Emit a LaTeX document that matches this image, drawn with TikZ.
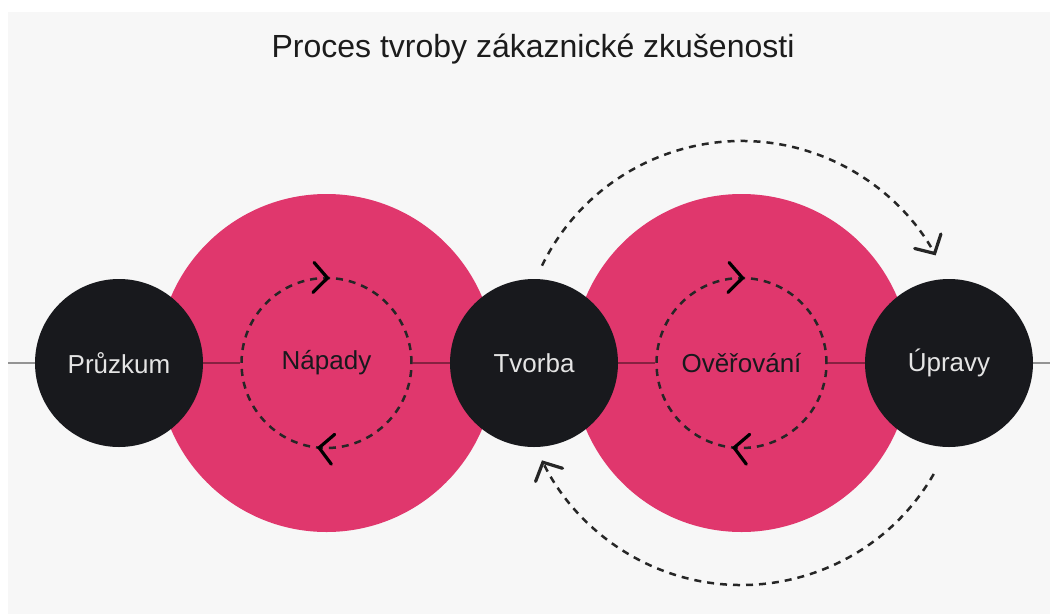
\documentclass[tikz,border=0pt]{standalone}
\usepackage{fontspec}
\setmainfont{Liberation Sans}
\usetikzlibrary{arrows.meta,decorations.markings,calc}
\definecolor{bgc}{HTML}{F7F7F7}
\definecolor{pinkc}{HTML}{E0376D}
\definecolor{darkc}{HTML}{18191D}
\definecolor{lightt}{HTML}{E4E4E4}
\definecolor{dashc}{HTML}{262626}
\definecolor{titlec}{HTML}{1C1C1C}
\begin{document}
\begin{tikzpicture}[x=1pt,y=-1pt,
  stage/.style={circle,fill=darkc,minimum size=168pt,inner sep=0pt,text=lightt,font=\fontsize{26}{30}\selectfont},
  phase/.style={circle,fill=pinkc,minimum size=338pt,inner sep=0pt},
  loopc/.style={circle,draw=dashc,line width=2.5pt,dash pattern=on 7pt off 6pt,minimum size=170pt,inner sep=0pt,text=darkc,font=\fontsize{26}{30}\selectfont},
  axisline/.style={draw=black,opacity=0.4,line width=1.2pt},
  looptips/.style={decoration={markings,
      mark=at position 0.268 with {\arrow{Straight Barb[length=14pt,width=30pt,line width=3.2pt,line cap=round]}},
      mark=at position 0.756 with {\arrow{Straight Barb[length=14pt,width=30pt,line width=3.2pt,line cap=round]}}},
    postaction=decorate},
  bigloop/.style={draw=dashc,line width=2.5pt,dash pattern=on 7pt off 6pt,
    -{Straight Barb[length=14pt,width=30pt,line width=3.2pt,line cap=round]}}
]
\useasboundingbox (0,0) rectangle (1050,614);
\fill[white] (0,0) rectangle (1050,614);
\fill[bgc] (8,12) rectangle (1050,614);

\node[font=\fontsize{32}{38}\selectfont,text=titlec] (title) at (533,49) {Proces tvroby zákaznické zkušenosti};

% big pink phases
\node[phase] (N) at (326.5,363) {};
\node[phase] (O) at (741.5,363) {};

% dashed loops with labels
\node[loopc] (Nd) at (326.5,363) {Nápady};
\node[loopc] (Od) at (741.5,363) {Ověřování};
\path[looptips] ($(Nd.center)+(85,0)$) arc[start angle=0,end angle=360,radius=85];
\path[looptips] ($(Od.center)+(85,0)$) arc[start angle=0,end angle=360,radius=85];

% black stages
\node[stage] (P) at (119,363) {Průzkum};
\node[stage] (T) at (534,363) {Tvorba};
\node[stage] (U) at (949,363) {Úpravy};

% axis connectors
\coordinate (lend) at (8,363);
\coordinate (rend) at (1050,363);
\draw[axisline] (lend) -- (P);
\draw[axisline] (P) -- (Nd);
\draw[axisline] (Nd) -- (T);
\draw[axisline] (T) -- (Od);
\draw[axisline] (Od) -- (U);
\draw[axisline] (U) -- (rend);

% big feedback arcs
\coordinate (topstart) at ($(O.center)+(-154:222)$);
\coordinate (botstart) at ($(O.center)+(30:222)$);
\draw[bigloop] (topstart) arc[start angle=-154,end angle=-29,radius=222];
\draw[bigloop] (botstart) arc[start angle=30,end angle=154,radius=222];
\end{tikzpicture}
\end{document}
